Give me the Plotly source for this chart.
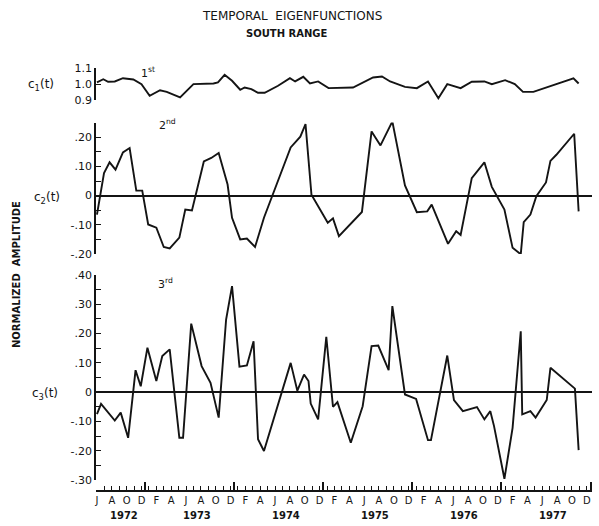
import plotly.graph_objects as go

# ---------------- data (x = months since June 1972) ----------------
C1_MONTH = [0, 0.85, 1.5, 2.4, 3.5, 4.9, 6, 7.1, 8.5, 9.4, 11.2, 13, 15.7, 16.3, 17.2, 18.2,
            19.3, 19.9, 20.8, 21.7, 22.6, 24.4, 26, 26.7, 27.8, 28.7, 29.8, 31.2, 34.5, 37.2,
            38.4, 39.5, 41.5, 43.1, 44.6, 46, 47.2, 49, 50.5, 52.2, 53.2, 55, 56.3, 57.4, 58.8,
            64.2, 64.9]
C1_VALUE = [1.01, 1.03, 1.014, 1.016, 1.036, 1.028, 0.999, 0.926, 0.961, 0.951, 0.916, 0.999,
            1.003, 1.01, 1.057, 1.02, 0.964, 0.978, 0.968, 0.945, 0.945, 0.989, 1.036, 1.016,
            1.045, 1.003, 1.016, 0.974, 0.978, 1.041, 1.047, 1.016, 0.982, 0.974, 1.016, 0.911,
            0.999, 0.974, 1.014, 1.016, 0.999, 1.024, 0.999, 0.951, 0.951, 1.036, 1.003]

C2_MONTH = [0, 0.95, 1.7, 2.5, 3.5, 4.4, 5.3, 6.1, 6.9, 8, 9, 9.8, 11.1, 11.9, 12.8, 14.4, 15.4,
            16.4, 17.6, 18.2, 19.3, 20.2, 21.3, 22.5, 26.1, 27.4, 28.1, 28.9, 31.1, 31.8, 32.6,
            35.7, 37, 38.2, 39.8, 41.5, 43.1, 44.5, 45.1, 47.3, 48.4, 49, 50.5, 52.2, 53.2, 54.9,
            56, 57.1, 57.5, 58.4, 59.2, 60.5, 61.1, 61.9, 64.3, 64.9]
C2_VALUE = [-0.065, 0.077, 0.114, 0.089, 0.148, 0.163, 0.017, 0.017, -0.099, -0.11, -0.176,
            -0.181, -0.144, -0.048, -0.051, 0.117, 0.129, 0.146, 0.038, -0.076, -0.15, -0.147,
            -0.176, -0.076, 0.165, 0.202, 0.245, 0.003, -0.093, -0.078, -0.139, -0.056, 0.22,
            0.172, 0.254, 0.035, -0.057, -0.054, -0.031, -0.165, -0.122, -0.135, 0.06, 0.114,
            0.03, -0.048, -0.179, -0.201, -0.091, -0.065, -0.002, 0.045, 0.119, 0.14, 0.212,
            -0.054]

C3_MONTH = [0, 0.55, 2.4, 3.2, 4.2, 5.2, 5.9, 6.8, 8, 8.8, 9.8, 11.1, 11.6, 12.7, 14.1, 15.3,
            16.4, 17.4, 18.2, 19.2, 20.2, 21.1, 21.7, 22.5, 26.1, 27, 27.9, 28.5, 28.8, 29.8,
            30.9, 31.8, 32.4, 34.2, 35.8, 37, 37.9, 39.3, 39.8, 41.5, 43, 44.6, 45, 46.1, 47.2,
            48.1, 49.3, 51.2, 52.2, 53, 53.5, 54.9, 56, 57.1, 57.3, 58.4, 59.1, 60.6, 61.1,
            64.4, 64.9]
C3_VALUE = [-0.075, -0.04, -0.097, -0.07, -0.156, 0.075, 0.02, 0.152, 0.038, 0.123, 0.146,
            -0.156, -0.156, 0.234, 0.089, 0.032, -0.087, 0.248, 0.362, 0.087, 0.091, 0.174,
            -0.161, -0.201, 0.1, 0.005, 0.06, 0.038, -0.039, -0.093, 0.189, -0.05, -0.034,
            -0.173, -0.048, 0.157, 0.159, 0.075, 0.294, -0.008, -0.023, -0.164, -0.164, -0.019,
            0.125, -0.027, -0.065, -0.051, -0.093, -0.065, -0.116, -0.296, -0.122, 0.208,
            -0.076, -0.065, -0.087, -0.027, 0.083, 0.012, -0.198]

MONTH_INITIALS = ["J", "F", "M", "A", "M", "J", "J", "A", "S", "O", "N", "D"]
START_MONTH = 6          # June 1972
N_MONTHS = 67            # June 1972 .. December 1977
YEARS = [1972, 1973, 1974, 1975, 1976, 1977]

C1_TICKS = [0.9, 1.0, 1.1]
C1_TICKTEXT = ["0.9", "1.0", "1.1"]
C2_TICKS = [-0.2, -0.1, 0, 0.1, 0.2]
C2_TICKTEXT = ["-.20", "-.10", "0", ".10", ".20"]
C3_TICKS = [-0.3, -0.2, -0.1, 0, 0.1, 0.2, 0.3, 0.4]
C3_TICKTEXT = ["-.30", "-.20", "-.10", "0", ".10", ".20", ".30", ".40"]

# ---------------- layout helpers ----------------
W, H = 599, 526
INK = "#141414"
FONT = "DejaVu Sans"


def py(p):
    return 1 - p / H


month_ticks = list(range(0, N_MONTHS, 2))
month_text = [MONTH_INITIALS[(START_MONTH - 1 + m) % 12] for m in month_ticks]
dec_ticks = [m + 0.5 for m in range(N_MONTHS) if (START_MONTH - 1 + m) % 12 == 11]
year_pos = []
for yr in YEARS:
    ms = [m for m in range(N_MONTHS) if 1972 + (START_MONTH - 1 + m) // 12 == yr]
    if len(ms) == 12:
        year_pos.append(ms[0] + 6.5)
    else:
        year_pos.append((ms[0] + ms[-1]) / 2 + 0.7)

fig = go.Figure()
line = dict(color=INK, width=1.9)
fig.add_trace(go.Scatter(x=C1_MONTH, y=C1_VALUE, mode="lines", line=line, xaxis="x", yaxis="y",
                         hoverinfo="skip", showlegend=False))
fig.add_trace(go.Scatter(x=C2_MONTH, y=C2_VALUE, mode="lines", line=line, xaxis="x", yaxis="y2",
                         hoverinfo="skip", showlegend=False))
fig.add_trace(go.Scatter(x=C3_MONTH, y=C3_VALUE, mode="lines", line=line, xaxis="x", yaxis="y3",
                         hoverinfo="skip", showlegend=False))
# invisible carrier so the overlay axis (tall year ticks) is drawn
fig.add_trace(go.Scatter(x=dec_ticks, y=[0] * len(dec_ticks), mode="markers",
                         marker=dict(opacity=0, size=1), xaxis="x2", yaxis="y3",
                         hoverinfo="skip", showlegend=False))

XDOM = [96 / W, 592 / W]
XRANGE = [-0.13, 66.7]
XPOS = py(491)

ytick_font = dict(family=FONT, size=11, color=INK)


def yaxis(dom, rng, tv, tt, minor=None, zero=False):
    d = dict(domain=dom, range=rng, anchor="x", showline=True, linecolor=INK, linewidth=1.6,
             ticks="inside", ticklen=5, tickwidth=1.4, tickcolor=INK, tickvals=tv, ticktext=tt,
             tickfont=ytick_font, showgrid=False, zeroline=zero, zerolinecolor=INK,
             zerolinewidth=1.5, fixedrange=True, automargin=False)
    if minor:
        d["minor"] = dict(ticks="inside", ticklen=5, tickwidth=1.4, tickcolor=INK,
                          dtick=minor, tick0=0, showgrid=False)
    return d


fig.update_layout(
    template="none",
    width=W, height=H,
    margin=dict(l=0, r=0, t=0, b=0, pad=0, autoexpand=False),
    paper_bgcolor="white", plot_bgcolor="white",
    showlegend=False,
    xaxis=dict(domain=XDOM, range=XRANGE, anchor="free", position=XPOS, showline=True,
               linecolor=INK, linewidth=1.5, ticks="inside", ticklen=4, tickwidth=1.2,
               tickcolor=INK, tickvals=month_ticks, ticktext=month_text,
               tickfont=dict(family=FONT, size=10, color=INK),
               minor=dict(ticks="inside", ticklen=4, tickwidth=1.1, tickcolor=INK, dtick=1,
                          tick0=0, showgrid=False),
               showgrid=False, zeroline=False, fixedrange=True, automargin=False),
    xaxis2=dict(overlaying="x", domain=XDOM, range=XRANGE, anchor="free", position=XPOS,
                ticks="inside", ticklen=9, tickwidth=1.5, tickcolor=INK, tickvals=dec_ticks,
                showticklabels=False, showline=False, showgrid=False, zeroline=False,
                fixedrange=True, automargin=False),
    yaxis=yaxis([py(100), py(68)], [0.9, 1.1], C1_TICKS, C1_TICKTEXT),
    yaxis2=yaxis([py(254), py(122.5)], [-0.2001, 0.2505], C2_TICKS, C2_TICKTEXT, minor=0.05,
                 zero=True),
    yaxis3=yaxis([py(480), py(275)], [-0.3001, 0.4001], C3_TICKS, C3_TICKTEXT, minor=0.05,
                 zero=True),
)

ann = []


def add(text, x, y, size, xref="paper", angle=0):
    ann.append(dict(text=text, x=x, y=y, xref=xref, yref="paper", showarrow=False,
                    xanchor="center", yanchor="middle", textangle=angle,
                    font=dict(family=FONT, size=size, color=INK)))


add("TEMPORAL  EIGENFUNCTIONS", 292 / W, py(16), 12)
add("<b>SOUTH RANGE</b>", 287 / W, py(33), 10)
add("<b>NORMALIZED  AMPLITUDE</b>", 16 / W, py(275), 10, angle=-90)
for lbl, xx, yy in [("c<sub>1</sub>(t)", 41, 85), ("c<sub>2</sub>(t)", 47, 198),
                    ("c<sub>3</sub>(t)", 45, 394)]:
    add(lbl, xx / W, py(yy), 12)
for lbl, xx, yy in [("1<sup>st</sup>", 148, 72), ("2<sup>nd</sup>", 167, 125),
                    ("3<sup>rd</sup>", 165, 283)]:
    add(lbl, xx / W, py(yy), 11)
for yr, pos in zip(YEARS, year_pos):
    add("<b>%d</b>" % yr, pos, py(515), 10, xref="x")
fig.update_layout(annotations=ann)

fig.write_html("out.html")
